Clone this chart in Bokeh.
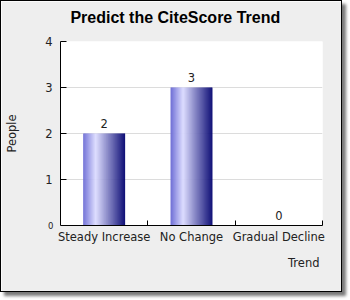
from bokeh.plotting import figure
from bokeh.models import Range1d, FixedTicker, Title, LinearAxis
from bokeh.embed import file_html
from bokeh.resources import INLINE
from bokeh.core.properties import value

# ---- data ----
categories = ["Steady Increase", "No Change", "Gradual Decline"]
people = [2, 3, 0]
y_ticks = [0, 1, 2, 3, 4]
title_text = "Predict the CiteScore Trend"
x_title = "Trend"
y_title = "People"

# ---- style ----
BAR_W = 0.48
N_SLICES = 42
STOPS = [(0.0, (104, 104, 212)), (0.3, (220, 220, 255)), (1.0, (0, 0, 110))]
AXIS_FONT = "DejaVu Sans"
TXT = "#222222"
TITLE_X = 1.315   # horizontal centre of the chart title, in x data units


def grad(t):
    for (t0, c0), (t1, c1) in zip(STOPS[:-1], STOPS[1:]):
        if t0 <= t <= t1:
            f = (t - t0) / (t1 - t0)
            r, g, b = (round(a + (bb - a) * f) for a, bb in zip(c0, c1))
            return "#%02x%02x%02x" % (r, g, b)
    return "#%02x%02x%02x" % STOPS[-1][1]


xs = [i + 0.5 for i in range(len(categories))]

p = figure(width=342, height=292, output_backend="svg", toolbar_location=None,
           x_range=Range1d(0, len(categories)), y_range=Range1d(0, 4),
           min_border_left=59, min_border_right=21, min_border_top=40, min_border_bottom=68)
p.styles = {"border": "1px solid black", "box-shadow": "4px 4px 3px #7a7a7a"}
p.border_fill_color = "#eeeeee"
p.background_fill_color = "white"
p.outline_line_color = None

# x axis (below)
xa = p.below[0]
xa.ticker = FixedTicker(ticks=xs, minor_ticks=list(range(1, len(categories) + 1)))
xa.major_label_overrides = {x: c for x, c in zip(xs, categories)}
xa.major_tick_in = 0
xa.major_tick_out = 0
xa.minor_tick_in = 5
xa.minor_tick_out = 0
xa.minor_tick_line_color = "black"
xa.axis_line_color = "black"
xa.major_label_standoff = 4
xa.major_label_text_font = AXIS_FONT
xa.major_label_text_font_size = "11.5px"
xa.major_label_text_color = TXT

# chart title, drawn as the single label of an "above" axis
tax = LinearAxis(ticker=FixedTicker(ticks=[TITLE_X], minor_ticks=[]),
                 major_label_overrides={TITLE_X: title_text},
                 axis_line_color=None, major_tick_line_color=None, minor_tick_line_color=None,
                 major_tick_in=0, major_tick_out=0, minor_tick_in=0, minor_tick_out=0,
                 major_label_standoff=16, major_label_text_font="Liberation Sans",
                 major_label_text_font_size="16px", major_label_text_font_style="bold",
                 major_label_text_color="black")
p.add_layout(tax, "above")

# y axis (ticks 1..4)
ya = p.left[0]
ya.ticker = FixedTicker(ticks=y_ticks[1:], minor_ticks=[])
ya.major_tick_in = 6
ya.major_tick_out = 0
ya.major_tick_line_color = "black"
ya.axis_line_color = "black"
ya.major_label_standoff = 8
ya.major_label_text_font = AXIS_FONT
ya.major_label_text_font_size = "11.5px"
ya.major_label_text_color = TXT

# outer left axis: the small "0" label and the axis title
za = LinearAxis(ticker=FixedTicker(ticks=y_ticks[:1], minor_ticks=[]),
                axis_line_color=None, major_tick_line_color=None, minor_tick_line_color=None,
                major_tick_in=0, major_tick_out=0, minor_tick_in=0, minor_tick_out=0,
                major_label_standoff=-11, major_label_text_font=AXIS_FONT,
                major_label_text_font_size="8.5px", major_label_text_color=TXT,
                axis_label=y_title, axis_label_standoff=26, axis_label_text_font=AXIS_FONT,
                axis_label_text_font_size="11.5px", axis_label_text_font_style="normal",
                axis_label_text_color=TXT)
p.add_layout(za, "left")

p.xgrid.grid_line_color = None
p.ygrid.ticker = FixedTicker(ticks=y_ticks)
p.ygrid.grid_line_color = "#dcdcdc"

# gradient bars from data
lefts, rights, tops, cols = [], [], [], []
for x, v in zip(xs, people):
    if v <= 0:
        continue
    b0 = x - BAR_W / 2
    step = BAR_W / N_SLICES
    for k in range(N_SLICES):
        l = b0 + k * step
        r = min(l + step * 1.4, b0 + BAR_W)
        lefts.append(l)
        rights.append(r)
        tops.append(v)
        cols.append(grad((k + 0.5) / N_SLICES))
p.quad(left=lefts, right=rights, bottom=0, top=tops, fill_color=cols, line_color=None)

# value labels
p.text(x=xs, y=people, text=[str(v) for v in people], text_align="center",
       text_baseline="alphabetic", y_offset=-10, text_font=value(AXIS_FONT),
       text_font_size="11.5px", text_color=TXT)

# x axis title, right aligned
p.add_layout(Title(text=x_title, align="right", offset=3, text_font=AXIS_FONT, text_font_size="11.5px",
                   text_font_style="normal", text_color=TXT, standoff=15), "below")

open("out.html", "w").write(file_html(p, INLINE))
